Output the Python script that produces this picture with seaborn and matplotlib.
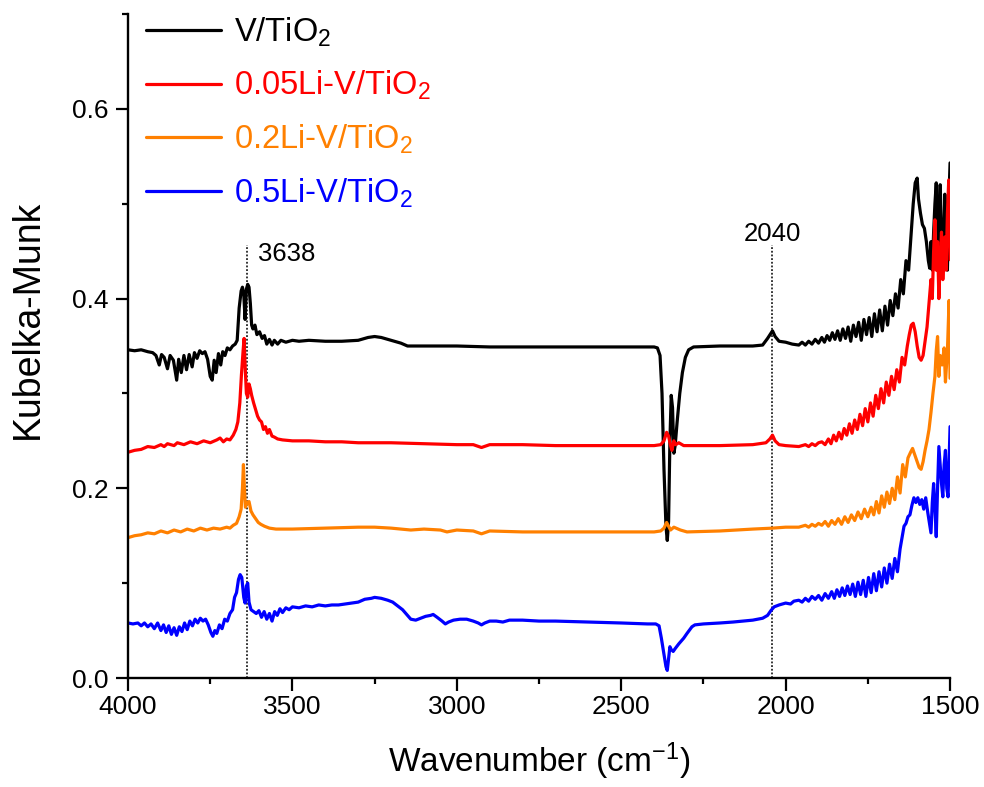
import matplotlib
matplotlib.use("Agg")
import matplotlib.pyplot as plt
import pandas as pd
import seaborn as sns
from matplotlib.ticker import MultipleLocator, FormatStrFormatter

# DRIFT spectra (Kubelka-Munk units) read as (wavenumber, value) pairs
v_tio2 = [
    (4000, 0.346), (3980, 0.345), (3960, 0.346), (3940, 0.344), (3925, 0.343),
    (3915, 0.340), (3905, 0.330), (3898, 0.341), (3890, 0.338), (3880, 0.326),
    (3872, 0.340), (3862, 0.335), (3852, 0.314), (3846, 0.336), (3838, 0.322),
    (3830, 0.340), (3822, 0.325), (3814, 0.341), (3805, 0.328), (3798, 0.343),
    (3790, 0.337), (3782, 0.345), (3774, 0.342), (3766, 0.344), (3758, 0.336),
    (3750, 0.318), (3744, 0.314), (3738, 0.335), (3732, 0.322), (3725, 0.342),
    (3718, 0.330), (3712, 0.344), (3705, 0.340), (3698, 0.348), (3690, 0.346),
    (3682, 0.350), (3674, 0.352), (3668, 0.356), (3662, 0.390), (3656, 0.408),
    (3652, 0.412), (3648, 0.405), (3644, 0.378), (3640, 0.410), (3636, 0.415),
    (3632, 0.412), (3628, 0.395), (3624, 0.372), (3620, 0.368), (3614, 0.372),
    (3608, 0.362), (3600, 0.365), (3592, 0.358), (3585, 0.361), (3578, 0.352),
    (3570, 0.357), (3562, 0.351), (3555, 0.356), (3545, 0.352), (3535, 0.356),
    (3520, 0.354), (3500, 0.356), (3480, 0.355), (3450, 0.356), (3400, 0.355),
    (3350, 0.355), (3300, 0.356), (3270, 0.359), (3250, 0.360), (3230, 0.359),
    (3200, 0.356), (3170, 0.353), (3150, 0.350), (3100, 0.350), (3000, 0.350),
    (2900, 0.349), (2800, 0.349), (2700, 0.349), (2600, 0.349), (2500, 0.349),
    (2400, 0.349), (2390, 0.348), (2382, 0.340), (2376, 0.300), (2370, 0.220),
    (2364, 0.160), (2360, 0.145), (2356, 0.165), (2352, 0.250), (2348, 0.298),
    (2344, 0.285), (2340, 0.237), (2336, 0.245), (2330, 0.270), (2322, 0.300),
    (2314, 0.322), (2305, 0.338), (2295, 0.346), (2280, 0.349), (2200, 0.350),
    (2100, 0.350), (2070, 0.351), (2055, 0.358), (2040, 0.366), (2032, 0.360),
    (2020, 0.355), (2000, 0.354), (1980, 0.352), (1960, 0.351), (1950, 0.354),
    (1940, 0.351), (1930, 0.355), (1920, 0.352), (1910, 0.357), (1900, 0.353),
    (1890, 0.359), (1882, 0.354), (1874, 0.361),
    (1866, 0.356), (1858, 0.364), (1850, 0.357), (1842, 0.366), (1834, 0.356),
    (1826, 0.368), (1818, 0.358), (1810, 0.370), (1802, 0.355), (1794, 0.372),
    (1786, 0.360), (1778, 0.375), (1770, 0.356), (1762, 0.378), (1754, 0.362),
    (1746, 0.380), (1738, 0.360), (1730, 0.384), (1722, 0.365), (1714, 0.388),
    (1706, 0.366), (1698, 0.392), (1690, 0.372), (1682, 0.398), (1674, 0.382),
    (1666, 0.405), (1658, 0.390), (1650, 0.420), (1642, 0.405), (1634, 0.440),
    (1626, 0.430), (1618, 0.470), (1612, 0.500), (1606, 0.522), (1600, 0.527),
    (1596, 0.505), (1590, 0.490), (1584, 0.478), (1578, 0.474), (1572, 0.460),
    (1566, 0.440), (1562, 0.432), (1558, 0.460), (1554, 0.430), (1550, 0.470),
    (1546, 0.500), (1542, 0.522), (1538, 0.480), (1534, 0.450), (1530, 0.520),
    (1526, 0.470), (1520, 0.440), (1516, 0.510), (1512, 0.480), (1508, 0.430),
    (1504, 0.500), (1500, 0.543),
]

li005_v_tio2 = [
    (4000, 0.238), (3980, 0.240), (3960, 0.241), (3940, 0.244), (3920, 0.243),
    (3900, 0.246), (3890, 0.244), (3880, 0.247), (3860, 0.245), (3850, 0.248),
    (3830, 0.246), (3810, 0.249), (3790, 0.247), (3770, 0.250), (3750, 0.248),
    (3730, 0.251), (3720, 0.253), (3710, 0.249), (3700, 0.252), (3690, 0.251),
    (3680, 0.256), (3672, 0.262), (3666, 0.270), (3660, 0.290), (3655, 0.320),
    (3650, 0.345), (3647, 0.358), (3644, 0.330), (3640, 0.300), (3636, 0.296),
    (3632, 0.310), (3628, 0.305), (3624, 0.298), (3618, 0.290), (3612, 0.283),
    (3606, 0.276), (3600, 0.272), (3594, 0.270), (3588, 0.262), (3582, 0.265),
    (3576, 0.258), (3570, 0.262), (3562, 0.255), (3555, 0.254), (3545, 0.252),
    (3530, 0.251), (3500, 0.250), (3450, 0.250), (3400, 0.249), (3350, 0.249),
    (3300, 0.248), (3200, 0.248), (3100, 0.247), (3000, 0.246), (2950, 0.246),
    (2925, 0.243), (2900, 0.246), (2800, 0.246), (2700, 0.245), (2600, 0.245),
    (2500, 0.245), (2400, 0.245), (2380, 0.246), (2370, 0.250), (2362, 0.259),
    (2356, 0.255), (2350, 0.245), (2346, 0.240), (2340, 0.250), (2334, 0.246),
    (2325, 0.248), (2310, 0.245), (2200, 0.245), (2100, 0.246), (2060, 0.248),
    (2048, 0.252), (2040, 0.256), (2032, 0.250), (2020, 0.246), (2000, 0.245),
    (1960, 0.244), (1940, 0.246), (1930, 0.244), (1920, 0.247), (1910, 0.245),
    (1900, 0.248), (1890, 0.249), (1880, 0.246),
    (1870, 0.252), (1862, 0.247), (1854, 0.256), (1846, 0.250), (1838, 0.259),
    (1830, 0.252), (1822, 0.263), (1814, 0.256), (1806, 0.268), (1798, 0.258),
    (1790, 0.272), (1782, 0.262), (1774, 0.278), (1766, 0.266), (1758, 0.284),
    (1750, 0.270), (1742, 0.290), (1734, 0.276), (1726, 0.298), (1718, 0.284),
    (1710, 0.305), (1702, 0.290), (1694, 0.312), (1686, 0.298), (1678, 0.318),
    (1670, 0.304), (1662, 0.325), (1654, 0.312), (1646, 0.338), (1638, 0.330),
    (1630, 0.350), (1624, 0.362), (1618, 0.372), (1612, 0.374), (1606, 0.365),
    (1600, 0.350), (1594, 0.338), (1588, 0.335), (1582, 0.340), (1576, 0.355),
    (1570, 0.370), (1564, 0.395), (1558, 0.420), (1554, 0.400), (1550, 0.450),
    (1546, 0.483), (1542, 0.430), (1538, 0.460), (1534, 0.400), (1530, 0.440),
    (1526, 0.470), (1522, 0.420), (1516, 0.465), (1512, 0.430), (1508, 0.490),
    (1504, 0.525), (1500, 0.441),
]

li02_v_tio2 = [
    (4000, 0.148), (3980, 0.150), (3960, 0.151), (3940, 0.153), (3920, 0.152),
    (3900, 0.155), (3880, 0.153), (3860, 0.156), (3840, 0.154), (3820, 0.157),
    (3800, 0.155), (3780, 0.158), (3760, 0.156), (3740, 0.158), (3720, 0.157),
    (3700, 0.159), (3690, 0.158), (3680, 0.161), (3670, 0.163), (3662, 0.170),
    (3656, 0.178), (3652, 0.200), (3649, 0.225), (3646, 0.200), (3643, 0.180),
    (3638, 0.185), (3632, 0.186), (3626, 0.176), (3620, 0.172), (3612, 0.168),
    (3604, 0.164), (3596, 0.162), (3585, 0.160), (3570, 0.158), (3550, 0.157),
    (3500, 0.157), (3400, 0.158), (3300, 0.159), (3250, 0.159), (3200, 0.158),
    (3140, 0.156), (3100, 0.157), (3050, 0.156), (3030, 0.154), (3000, 0.156),
    (2950, 0.155), (2925, 0.152), (2900, 0.155), (2800, 0.154), (2700, 0.154),
    (2600, 0.154), (2500, 0.154), (2400, 0.154), (2380, 0.155), (2370, 0.158),
    (2362, 0.164), (2356, 0.160), (2350, 0.156), (2340, 0.159), (2320, 0.156),
    (2300, 0.154), (2200, 0.155), (2100, 0.157), (2040, 0.158), (2000, 0.159),
    (1960, 0.159), (1940, 0.161), (1930, 0.159), (1920, 0.162), (1910, 0.160),
    (1900, 0.163), (1890, 0.161), (1880, 0.165),
    (1870, 0.160), (1860, 0.166), (1850, 0.162), (1840, 0.168), (1830, 0.162),
    (1820, 0.170), (1810, 0.164), (1800, 0.172), (1790, 0.166), (1780, 0.175),
    (1770, 0.168), (1760, 0.178), (1750, 0.170), (1740, 0.180), (1732, 0.172),
    (1724, 0.186), (1716, 0.174), (1708, 0.192), (1700, 0.180), (1692, 0.196),
    (1684, 0.184), (1676, 0.200), (1668, 0.188), (1660, 0.212), (1652, 0.195),
    (1644, 0.225), (1636, 0.212), (1628, 0.232), (1620, 0.238), (1614, 0.242),
    (1608, 0.236), (1600, 0.228), (1594, 0.222), (1588, 0.220), (1582, 0.228),
    (1576, 0.240), (1570, 0.250), (1564, 0.262), (1558, 0.280), (1552, 0.300),
    (1546, 0.318), (1542, 0.345), (1538, 0.360), (1534, 0.318), (1530, 0.340),
    (1524, 0.330), (1518, 0.348), (1514, 0.312), (1508, 0.345), (1503, 0.398),
    (1500, 0.316),
]

li05_v_tio2 = [
    (4000, 0.058), (3985, 0.057), (3970, 0.058), (3960, 0.055), (3950, 0.058),
    (3940, 0.054), (3930, 0.057), (3920, 0.052), (3910, 0.058), (3900, 0.050),
    (3892, 0.056), (3884, 0.048), (3876, 0.055), (3868, 0.046), (3860, 0.053),
    (3852, 0.045), (3844, 0.054), (3836, 0.049), (3828, 0.058), (3820, 0.051),
    (3812, 0.060), (3804, 0.055), (3796, 0.062), (3788, 0.058), (3780, 0.063),
    (3772, 0.060), (3764, 0.062), (3756, 0.056), (3748, 0.048), (3742, 0.044),
    (3736, 0.050), (3730, 0.047), (3722, 0.056), (3714, 0.052), (3706, 0.062),
    (3698, 0.060), (3690, 0.068), (3682, 0.072), (3676, 0.085), (3670, 0.090),
    (3664, 0.104), (3659, 0.109), (3654, 0.106), (3648, 0.085), (3644, 0.079),
    (3640, 0.097), (3636, 0.100), (3632, 0.080), (3626, 0.072), (3618, 0.070),
    (3610, 0.068), (3602, 0.071), (3594, 0.064), (3586, 0.070), (3578, 0.062),
    (3570, 0.068), (3562, 0.060), (3554, 0.070), (3546, 0.066), (3538, 0.073),
    (3530, 0.069), (3520, 0.074), (3510, 0.072), (3500, 0.075), (3480, 0.074),
    (3460, 0.076), (3440, 0.075), (3420, 0.077), (3400, 0.076), (3380, 0.077),
    (3360, 0.077), (3340, 0.078), (3320, 0.079), (3300, 0.080), (3280, 0.083),
    (3260, 0.084), (3250, 0.085), (3230, 0.084), (3210, 0.082), (3195, 0.080),
    (3180, 0.076), (3165, 0.072), (3150, 0.066), (3140, 0.062), (3125, 0.061),
    (3110, 0.063), (3095, 0.065), (3080, 0.066), (3072, 0.067), (3060, 0.064),
    (3045, 0.060), (3035, 0.057), (3025, 0.059), (3010, 0.061), (2990, 0.062),
    (2970, 0.062), (2950, 0.060), (2935, 0.058), (2925, 0.056), (2915, 0.058),
    (2900, 0.060), (2880, 0.060), (2860, 0.059), (2840, 0.061), (2800, 0.061),
    (2750, 0.060), (2700, 0.060), (2600, 0.059), (2500, 0.058), (2420, 0.057),
    (2395, 0.057), (2385, 0.055), (2378, 0.042), (2370, 0.025), (2364, 0.012),
    (2360, 0.008), (2356, 0.020), (2352, 0.033), (2348, 0.030), (2342, 0.028),
    (2336, 0.031), (2325, 0.036), (2310, 0.042), (2300, 0.047), (2285, 0.054),
    (2276, 0.056), (2250, 0.057), (2200, 0.058), (2160, 0.059), (2100, 0.061),
    (2070, 0.063), (2055, 0.066), (2045, 0.071), (2035, 0.075), (2020, 0.077),
    (2000, 0.079), (1985, 0.078), (1975, 0.081), (1960, 0.082), (1950, 0.080),
    (1940, 0.084), (1930, 0.081), (1920, 0.086), (1910, 0.083), (1900, 0.087),
    (1890, 0.082), (1880, 0.089), (1870, 0.084), (1860, 0.091), (1852, 0.084),
    (1844, 0.093), (1836, 0.086), (1828, 0.095), (1820, 0.087), (1812, 0.097),
    (1804, 0.088), (1796, 0.099), (1788, 0.086), (1780, 0.101), (1772, 0.088),
    (1764, 0.103), (1756, 0.086), (1748, 0.106), (1740, 0.090), (1732, 0.110),
    (1724, 0.092), (1716, 0.112), (1708, 0.096), (1700, 0.116), (1692, 0.100),
    (1684, 0.120), (1676, 0.105), (1668, 0.126), (1660, 0.112), (1652, 0.136),
    (1646, 0.148), (1640, 0.160), (1634, 0.163), (1628, 0.170), (1622, 0.172),
    (1616, 0.182), (1610, 0.190), (1604, 0.185), (1598, 0.190), (1592, 0.183),
    (1586, 0.188), (1580, 0.178), (1574, 0.190), (1568, 0.175), (1562, 0.162),
    (1558, 0.153), (1554, 0.185), (1550, 0.205), (1546, 0.180), (1542, 0.149),
    (1538, 0.200), (1534, 0.244), (1530, 0.225), (1526, 0.205), (1522, 0.191),
    (1518, 0.225), (1514, 0.240), (1510, 0.200), (1506, 0.191), (1503, 0.230),
    (1500, 0.265),
]

sample_labels = ["V/TiO$_2$", "0.05Li-V/TiO$_2$", "0.2Li-V/TiO$_2$", "0.5Li-V/TiO$_2$"]
sample_colors = ["#000000", "#ff0000", "#ff8000", "#0000ff"]
spectra = [v_tio2, li005_v_tio2, li02_v_tio2, li05_v_tio2]

# marked band positions and the height of their guide lines
band_positions = [3638, 2040]
guide_top = 0.457

sns.set_style("ticks")
plt.rcParams.update({
    "font.family": ["Liberation Sans", "DejaVu Sans"],
    "mathtext.fontset": "custom",
    "mathtext.rm": "Liberation Sans",
    "mathtext.it": "Liberation Sans:italic",
    "mathtext.bf": "Liberation Sans:bold",
    "text.color": "black",
    "axes.labelcolor": "black",
    "axes.edgecolor": "black",
    "xtick.color": "black",
    "ytick.color": "black",
})

fig = plt.figure(figsize=(9.84, 7.87), dpi=100)
ax = fig.add_axes([0.1301, 0.1385, 0.8354, 0.8437])

for label, color, pts in zip(sample_labels, sample_colors, spectra):
    df = pd.DataFrame(pts, columns=["wavenumber", "km"])
    sns.lineplot(data=df, x="wavenumber", y="km", sort=False, estimator=None,
                 color=color, lw=2.3, label=label, ax=ax)

ax.vlines(band_positions, 0, guide_top, colors="black",
          linestyles=(0, (1.2, 1.2)), lw=1.1, zorder=1)
ax.text(band_positions[0] - 32, guide_top - 0.017, str(band_positions[0]),
        fontsize=18.5, ha="left", va="baseline")
ax.text(band_positions[1], guide_top + 0.004, str(band_positions[1]),
        fontsize=18.5, ha="center", va="baseline")

ax.set_xlim(4000, 1500)
ax.set_ylim(0, 0.7)
ax.xaxis.set_major_locator(MultipleLocator(500))
ax.xaxis.set_minor_locator(MultipleLocator(250))
ax.yaxis.set_major_locator(MultipleLocator(0.2))
ax.yaxis.set_minor_locator(MultipleLocator(0.1))
ax.yaxis.set_major_formatter(FormatStrFormatter("%.1f"))

sns.despine(ax=ax)
for side in ("left", "bottom"):
    ax.spines[side].set_linewidth(1.7)
ax.tick_params(which="major", direction="out", length=9, width=1.6, labelsize=19)
ax.tick_params(which="minor", direction="out", length=4.5, width=1.6)
ax.tick_params(axis="x", which="major", pad=3)
ax.tick_params(axis="y", which="major", pad=5)

ax.set_xlabel("Wavenumber (cm$^{-1}$)", fontsize=24, labelpad=16)
ax.set_ylabel("Kubelka-Munk", fontsize=27)
ax.yaxis.set_label_coords(-0.100, 0.54)

leg = ax.legend(loc="upper left", bbox_to_anchor=(0.022, 0.998), frameon=False,
                fontsize=23.5, handlelength=2.3, handletextpad=0.40,
                labelspacing=0.62, borderpad=0, borderaxespad=0)
for text, line in zip(leg.get_texts(), leg.get_lines()):
    text.set_color(line.get_color())
    line.set_linewidth(2.3)

fig.savefig("out.png", dpi=100)
